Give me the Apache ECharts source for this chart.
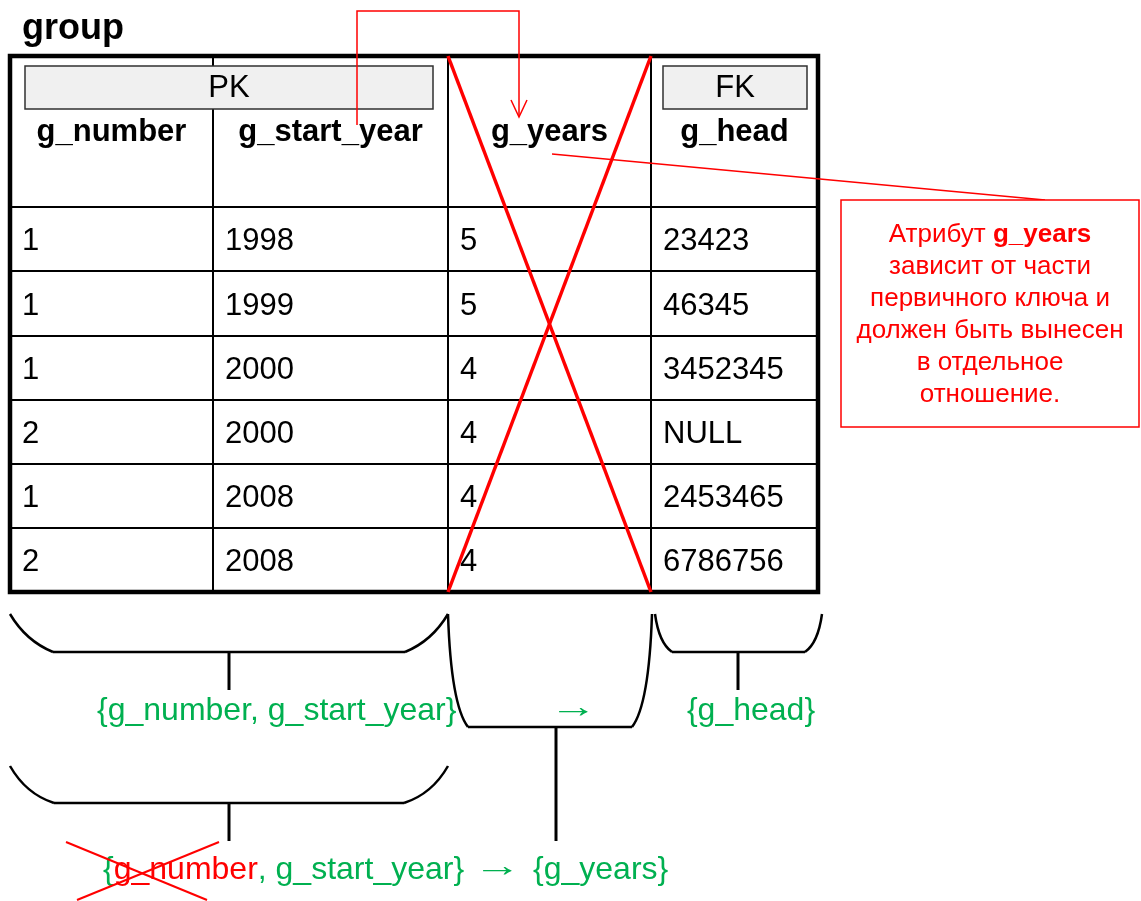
<!DOCTYPE html>
<html><head><meta charset="utf-8">
<script src="https://cdn.jsdelivr.net/npm/echarts@6/dist/echarts.min.js"></script>
<style>html,body{margin:0;padding:0;background:#fff}#c{width:1141px;height:901px}</style>
</head><body><div id="c"></div>
<script>
// ---- content ----
const tableName = 'group';
const columns = ['g_number', 'g_start_year', 'g_years', 'g_head'];
const pkLabel = 'PK';
const fkLabel = 'FK';
const colNumber = ['1', '1', '1', '2', '1', '2'];
const colStartYear = ['1998', '1999', '2000', '2000', '2008', '2008'];
const colYears = ['5', '5', '4', '4', '4', '4'];
const colHead = ['23423', '46345', '3452345', 'NULL', '2453465', '6786756'];
const noteBoldWord = 'g_years';
const noteFirst = 'Атрибут ';
const noteRest = ['зависит от части', 'первичного ключа и', 'должен быть вынесен', 'в отдельное', 'отношение.'];
const depTop = ['{g_number, g_start_year}', '→', '{g_head}'];
const depBottom = ['{', 'g_number', ', g_start_year}', '→', '{g_years}'];

// ---- layout ----
const FONT = '"Liberation Sans", Arial, sans-serif';
const RED = '#ff0000', GREEN = '#00b050', BLACK = '#000000';
const colX = [10, 213, 448, 651, 818];
const rowY = [56, 207, 271, 336, 400, 464, 528, 592];
const rowsData = colNumber.map((v, i) => [v, colStartYear[i], colYears[i], colHead[i]]);
const DY = 2.5; // text baseline nudge

const measure = (() => {
  const c = document.createElement('canvas').getContext('2d');
  return (t, size, weight) => { c.font = (weight || 'normal') + ' ' + size + 'px ' + FONT; return c.measureText(t).width; };
})();

const els = [];
const txt = (x, y, text, o, extra) => els.push(Object.assign({
  type: 'text', x, y: y + DY, silent: true,
  style: Object.assign({ text, fill: BLACK, fontSize: 31, fontFamily: FONT, align: 'left', verticalAlign: 'middle' }, o || {})
}, extra || {}));
const line = (x1, y1, x2, y2, stroke, w) => els.push({ type: 'line', silent: true, shape: { x1, y1, x2, y2 }, style: { stroke, lineWidth: w, lineCap: 'butt' } });
const quad = (x1, y1, cx, cy, x2, y2, w) => els.push({ type: 'bezierCurve', silent: true, shape: { x1, y1, x2, y2, cpx1: cx, cpy1: cy }, style: { stroke: BLACK, fill: 'none', lineWidth: w } });
const poly = (pts, stroke, w) => els.push({ type: 'polyline', silent: true, shape: { points: pts }, style: { stroke, fill: 'none', lineWidth: w } });

// title
txt(22, 27, tableName, { fontSize: 36, fontWeight: 'bold' });

// table grid
for (let i = 1; i < colX.length - 1; i++) line(colX[i], rowY[0], colX[i], rowY[rowY.length - 1], BLACK, 2);
for (let j = 1; j < rowY.length - 1; j++) line(colX[0], rowY[j], colX[colX.length - 1], rowY[j], BLACK, 2);
els.push({ type: 'rect', silent: true, shape: { x: colX[0], y: rowY[0], width: colX[4] - colX[0], height: rowY[7] - rowY[0] }, style: { fill: 'none', stroke: BLACK, lineWidth: 4.5 } });

// key boxes
els.push({ type: 'rect', silent: true, shape: { x: 25, y: 66, width: 408, height: 43 }, style: { fill: '#f0f0f0', stroke: '#303030', lineWidth: 1.5 } });
txt(229, 86, pkLabel, { align: 'center' });
els.push({ type: 'rect', silent: true, shape: { x: 663, y: 66, width: 144, height: 43 }, style: { fill: '#f0f0f0', stroke: '#303030', lineWidth: 1.5 } });
txt(735, 86, fkLabel, { align: 'center' });

// headers
columns.forEach((c, i) => txt((colX[i] + colX[i + 1]) / 2, 130, c, { align: 'center', fontWeight: 'bold' }));

// rows
rowsData.forEach((r, j) => {
  const cy = (rowY[j + 1] + rowY[j + 2]) / 2;
  r.forEach((v, i) => txt(colX[i] + 12, cy, v));
});

// red cross over g_years column
line(colX[2], rowY[0], colX[3], rowY[7], RED, 3.5);
line(colX[3], rowY[0], colX[2], rowY[7], RED, 3.5);

// red connector arrow
poly([[357, 125], [357, 11], [519, 11], [519, 116]], RED, 1.5);
poly([[511, 100], [519, 117], [527, 100]], RED, 1.5);

// red pointer line to note
line(552, 154, 1045, 200, RED, 1.5);

// note box
els.push({ type: 'rect', silent: true, shape: { x: 841, y: 200, width: 298, height: 227 }, style: { fill: '#fff', stroke: RED, lineWidth: 1.5 } });
els.push({
  type: 'text', x: 990, y: 315, silent: true,
  style: {
    text: '{n|' + noteFirst + '}{b|' + noteBoldWord + '}\n' + noteRest.map(s => '{n|' + s + '}').join('\n'),
    align: 'center', verticalAlign: 'middle', fill: RED, fontFamily: FONT, fontSize: 26, lineHeight: 32,
    rich: {
      n: { fill: RED, fontFamily: FONT, fontSize: 26, lineHeight: 32 },
      b: { fill: RED, fontFamily: FONT, fontSize: 26, lineHeight: 32, fontWeight: 'bold' }
    }
  }
});

// braces
quad(10, 614, 26, 641, 53, 652, 2.5); line(53, 652, 405, 652, BLACK, 2.5); quad(405, 652, 432, 641, 448, 614, 2.5);
line(229, 652, 229, 690, BLACK, 3);
quad(448, 614, 451, 705, 468, 727, 2.5); line(468, 727, 632, 727, BLACK, 2.5); quad(632, 727, 649, 705, 652, 614, 2.5);
line(556, 727, 556, 841, BLACK, 3);
quad(655, 614, 659, 643, 672, 652, 2.5); line(672, 652, 805, 652, BLACK, 2.5); quad(805, 652, 818, 643, 822, 614, 2.5);
line(738, 652, 738, 690, BLACK, 3);
quad(10, 766, 26, 794, 54, 803, 2.5); line(54, 803, 404, 803, BLACK, 2.5); quad(404, 803, 432, 794, 448, 766, 2.5);
line(229, 803, 229, 841, BLACK, 3);

// dependency texts (top)
const GS = 32;
txt(97, 709, depTop[0], { fill: GREEN, fontSize: GS });
txt(573, 706, depTop[1], { fill: GREEN, align: 'center', fontSize: GS }, { scaleX: 1.5 });
txt(751, 709, depTop[2], { fill: GREEN, align: 'center', fontSize: GS });

// dependency text (bottom) with struck part
let bx = 103;
txt(bx, 868, depBottom[0], { fill: GREEN, fontSize: GS }); bx += measure(depBottom[0], GS);
txt(bx, 868, depBottom[1], { fill: RED, fontSize: GS }); bx += measure(depBottom[1], GS);
txt(bx, 868, depBottom[2], { fill: GREEN, fontSize: GS });
txt(497, 865, depBottom[3], { fill: GREEN, align: 'center', fontSize: GS }, { scaleX: 1.5 });
txt(533, 868, depBottom[4], { fill: GREEN, fontSize: GS });
line(66, 842, 207, 900, RED, 2);
line(77, 900, 219, 842, RED, 2);

const chart = echarts.init(document.getElementById('c'), null, { renderer: 'canvas' });
chart.setOption({ animation: false, backgroundColor: '#ffffff', graphic: { elements: els } });
</script>
</body></html>
